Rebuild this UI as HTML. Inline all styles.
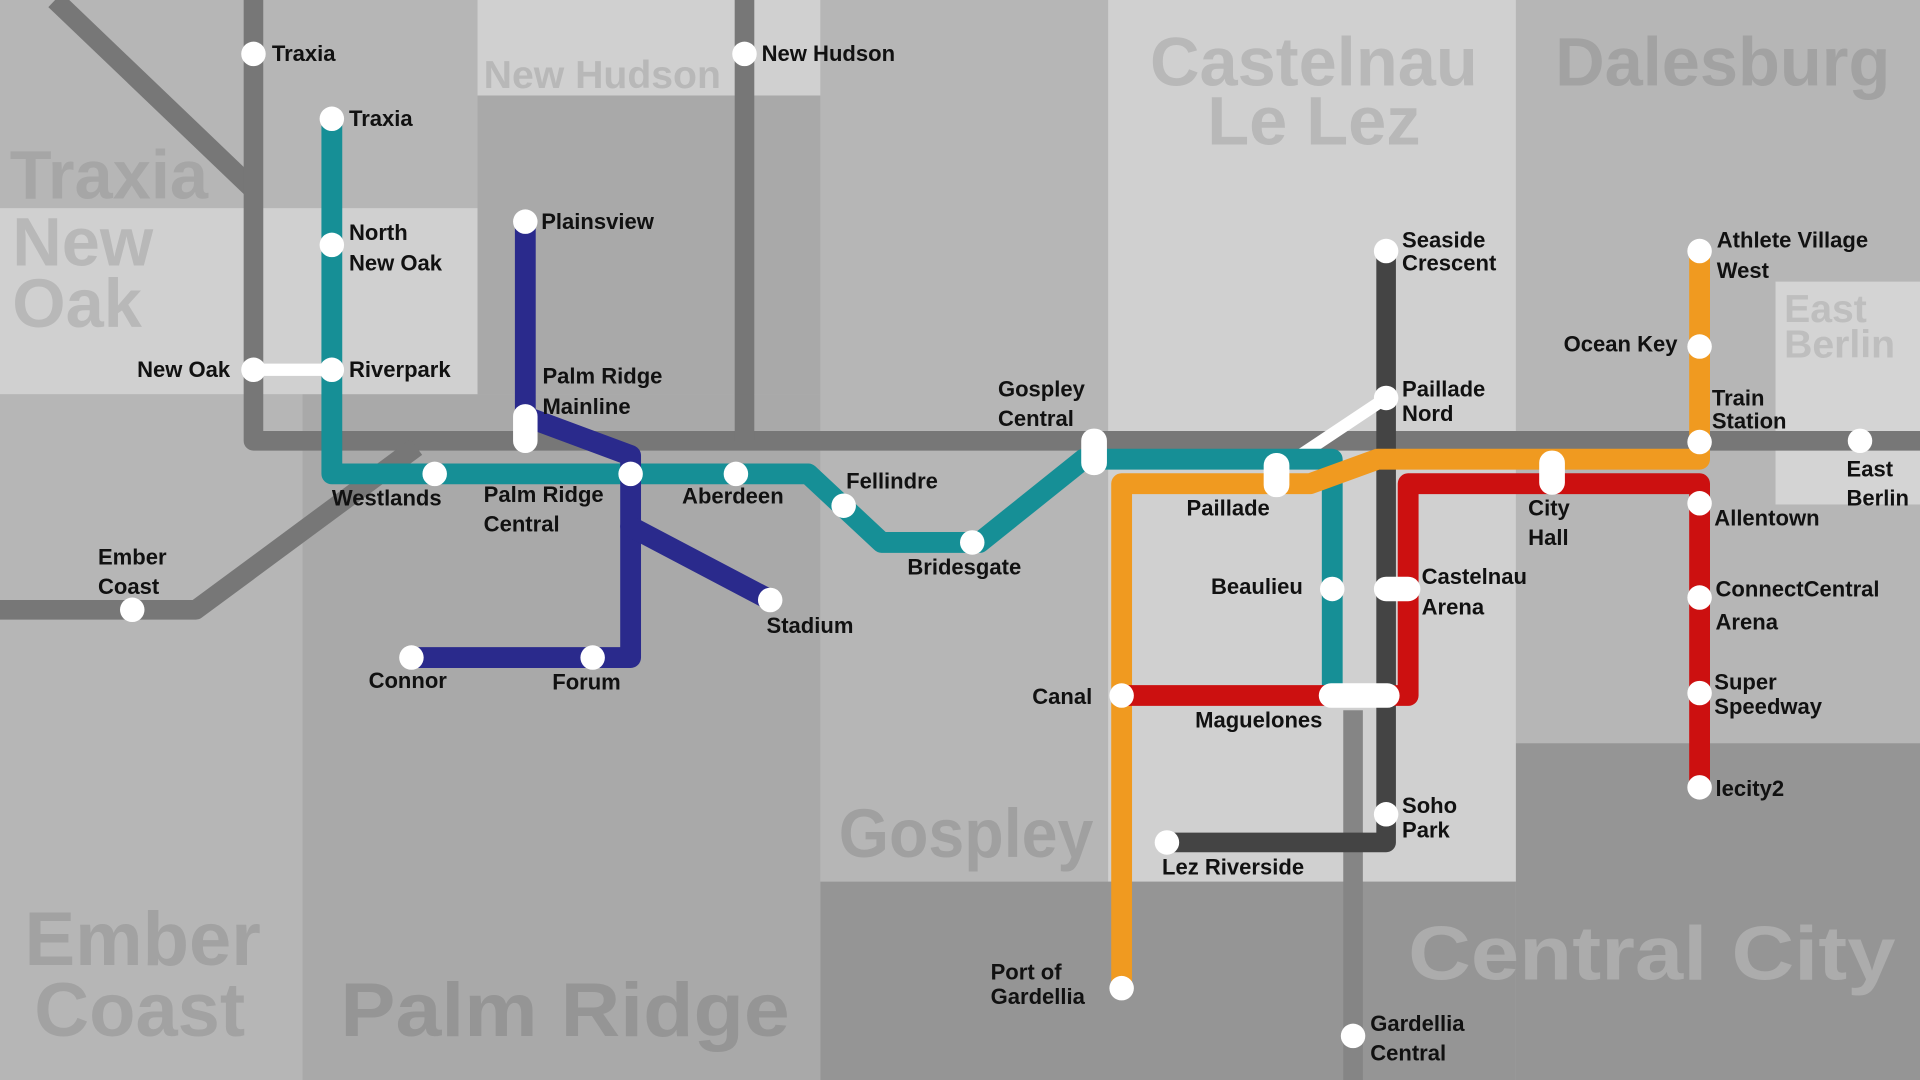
<!DOCTYPE html>
<html><head><meta charset="utf-8"><style>
html,body{margin:0;padding:0;width:1920px;height:1080px;overflow:hidden;background:#b6b6b6}
svg{display:block}
.s{font-family:"Liberation Sans",sans-serif;font-weight:bold;font-size:18px;fill:#111}
.r{font-family:"Liberation Sans",sans-serif;font-weight:bold;font-size:56px}
</style></head><body>
<svg width="1920" height="1080" viewBox="0 0 1568 882" xmlns="http://www.w3.org/2000/svg">
<rect x="0" y="0" width="1568" height="882" fill="#b6b6b6"/>
<rect x="0" y="0" width="390" height="170" fill="#b6b6b6"/>
<rect x="0" y="170" width="390" height="152" fill="#d0d0d0"/>
<rect x="390" y="0" width="280" height="78" fill="#d0d0d0"/>
<rect x="390" y="78" width="280" height="244" fill="#a9a9a9"/>
<rect x="247" y="322" width="423" height="560" fill="#a9a9a9"/>
<rect x="0" y="322" width="247" height="560" fill="#b6b6b6"/>
<rect x="670" y="0" width="235" height="720" fill="#b6b6b6"/>
<rect x="905" y="0" width="333" height="720" fill="#d0d0d0"/>
<rect x="1238" y="0" width="330" height="607" fill="#b6b6b6"/>
<rect x="1450" y="230" width="118" height="182" fill="#d4d4d4"/>
<rect x="1238" y="607" width="330" height="275" fill="#959595"/>
<rect x="670" y="720" width="568" height="162" fill="#959595"/>
<g class="r">
<text x="8" y="162" fill="#a6a6a6">Traxia</text>
<text x="10" y="217" fill="#b8b8b8">New</text>
<text x="10" y="267" fill="#b8b8b8">Oak</text>
<text x="395" y="72" fill="#b8b8b8" font-size="32">New Hudson</text>
<text x="1073" y="70" fill="#b8b8b8" text-anchor="middle">Castelnau</text>
<text x="1073" y="118" fill="#b8b8b8" text-anchor="middle">Le Lez</text>
<text x="1270" y="70" fill="#a2a2a2">Dalesburg</text>
<text x="1457" y="263" fill="#bebebe" font-size="32">East</text>
<text x="1457" y="292" fill="#bebebe" font-size="32">Berlin</text>
<text x="685" y="700" fill="#a0a0a0" textLength="208" lengthAdjust="spacingAndGlyphs">Gospley</text>
<text x="1150" y="800" fill="#acacac" font-size="62" textLength="398" lengthAdjust="spacingAndGlyphs">Central City</text>
<text x="20" y="788" fill="#a2a2a2" font-size="62">Ember</text>
<text x="28" y="846" fill="#a2a2a2" font-size="62">Coast</text>
<text x="278" y="846" fill="#959595" font-size="62" textLength="367" lengthAdjust="spacingAndGlyphs">Palm Ridge</text>
</g>
<g fill="none" stroke-linecap="round" stroke-linejoin="round">
<path d="M45 0 L207 155" stroke="#777" stroke-width="16" stroke-linecap="butt"/>
<path d="M207 0 V360 H1568" stroke="#777" stroke-width="16" stroke-linecap="butt"/>
<path d="M608 0 V360" stroke="#777" stroke-width="16" stroke-linecap="butt"/>
<path d="M0 498 H160 L340 365" stroke="#777" stroke-width="16" stroke-linecap="butt"/>
<path d="M1105 580 V882" stroke="#858585" stroke-width="16" stroke-linecap="butt"/>
<path d="M1132 205 V688 H953" stroke="#444" stroke-width="16"/>
<path d="M207 302 H271" stroke="#fff" stroke-width="10"/>
<path d="M1132 325 L1042 385" stroke="#fff" stroke-width="10"/>
<path d="M271 97 V387 H660 L720 443 H800 L885 375 H1088 V568" stroke="#168f96" stroke-width="17"/>
<path d="M429 181 V340 L515 372 V537 H336" stroke="#2a2a8c" stroke-width="17"/>
<path d="M515 430 L629 490" stroke="#2a2a8c" stroke-width="17"/>
<path d="M916 807 V395 H1070 L1125 375 H1388 V205" stroke="#f09a20" stroke-width="17"/>
<path d="M916 568 H1150 V395 H1388 V643" stroke="#cc1010" stroke-width="17"/>
</g>
<g fill="#fff">
<circle cx="207" cy="44" r="10"/><circle cx="271" cy="97" r="10"/><circle cx="271" cy="200" r="10"/>
<circle cx="271" cy="302" r="10"/><circle cx="207" cy="302" r="10"/><circle cx="608" cy="44" r="10"/>
<circle cx="429" cy="181" r="10"/><rect x="419" y="330" width="20" height="40" rx="10"/>
<circle cx="355" cy="387" r="10"/><circle cx="515" cy="387" r="10"/><circle cx="601" cy="387" r="10"/>
<circle cx="689" cy="413" r="10"/><circle cx="794" cy="443" r="10"/><circle cx="629" cy="490" r="10"/>
<circle cx="336" cy="537" r="10"/><circle cx="484" cy="537" r="10"/><circle cx="108" cy="498" r="10"/>
<rect x="883" y="350" width="21" height="38" rx="10"/><rect x="1032" y="370" width="21" height="36" rx="10"/>
<circle cx="1132" cy="205" r="10"/><circle cx="1132" cy="325" r="10"/><rect x="1257" y="368" width="21" height="36" rx="10"/>
<circle cx="1088" cy="481" r="10"/><rect x="1122" y="471" width="38" height="20" rx="10"/>
<circle cx="916" cy="568" r="10"/><rect x="1077" y="558" width="66" height="20" rx="10"/>
<circle cx="1132" cy="665" r="10"/><circle cx="953" cy="688" r="10"/><circle cx="916" cy="807" r="10"/>
<circle cx="1105" cy="846" r="10"/>
<circle cx="1388" cy="205" r="10"/><circle cx="1388" cy="283" r="10"/><circle cx="1388" cy="361" r="10"/>
<circle cx="1519" cy="360" r="10"/><circle cx="1388" cy="411" r="10"/><circle cx="1388" cy="488" r="10"/>
<circle cx="1388" cy="566" r="10"/><circle cx="1388" cy="643" r="10"/>
</g>
<g class="s">
<text x="222" y="50">Traxia</text>
<text x="285" y="103">Traxia</text>
<text x="285" y="196">North</text><text x="285" y="221">New Oak</text>
<text x="285" y="308">Riverpark</text>
<text x="188" y="308" text-anchor="end">New Oak</text>
<text x="622" y="50">New Hudson</text>
<text x="442" y="187">Plainsview</text>
<text x="443" y="313">Palm Ridge</text><text x="443" y="338">Mainline</text>
<text x="271" y="413">Westlands</text>
<text x="395" y="410">Palm Ridge</text><text x="395" y="434">Central</text>
<text x="557" y="411">Aberdeen</text>
<text x="691" y="399">Fellindre</text>
<text x="741" y="469">Bridesgate</text>
<text x="626" y="517">Stadium</text>
<text x="301" y="562">Connor</text>
<text x="451" y="563">Forum</text>
<text x="80" y="461">Ember</text><text x="80" y="485">Coast</text>
<text x="815" y="324">Gospley</text><text x="815" y="348">Central</text>
<text x="969" y="421">Paillade</text>
<text x="989" y="485">Beaulieu</text>
<text x="843" y="575">Canal</text>
<text x="976" y="594">Maguelones</text>
<text x="949" y="714">Lez Riverside</text>
<text x="809" y="800">Port of</text><text x="809" y="820">Gardellia</text>
<text x="1119" y="842">Gardellia</text><text x="1119" y="866">Central</text>
<text x="1145" y="202">Seaside</text><text x="1145" y="221">Crescent</text>
<text x="1145" y="324">Paillade</text><text x="1145" y="344">Nord</text>
<text x="1161" y="477">Castelnau</text><text x="1161" y="502">Arena</text>
<text x="1145" y="664">Soho</text><text x="1145" y="684">Park</text>
<text x="1248" y="421">City</text><text x="1248" y="445">Hall</text>
<text x="1402" y="202">Athlete Village</text><text x="1402" y="227">West</text>
<text x="1370" y="287" text-anchor="end">Ocean Key</text>
<text x="1398" y="331">Train</text><text x="1398" y="350">Station</text>
<text x="1508" y="389">East</text><text x="1508" y="413">Berlin</text>
<text x="1400" y="429">Allentown</text>
<text x="1401" y="487">ConnectCentral</text><text x="1401" y="514">Arena</text>
<text x="1400" y="563">Super</text><text x="1400" y="583">Speedway</text>
<text x="1401" y="650">lecity2</text>
</g>
</svg>
</body></html>
